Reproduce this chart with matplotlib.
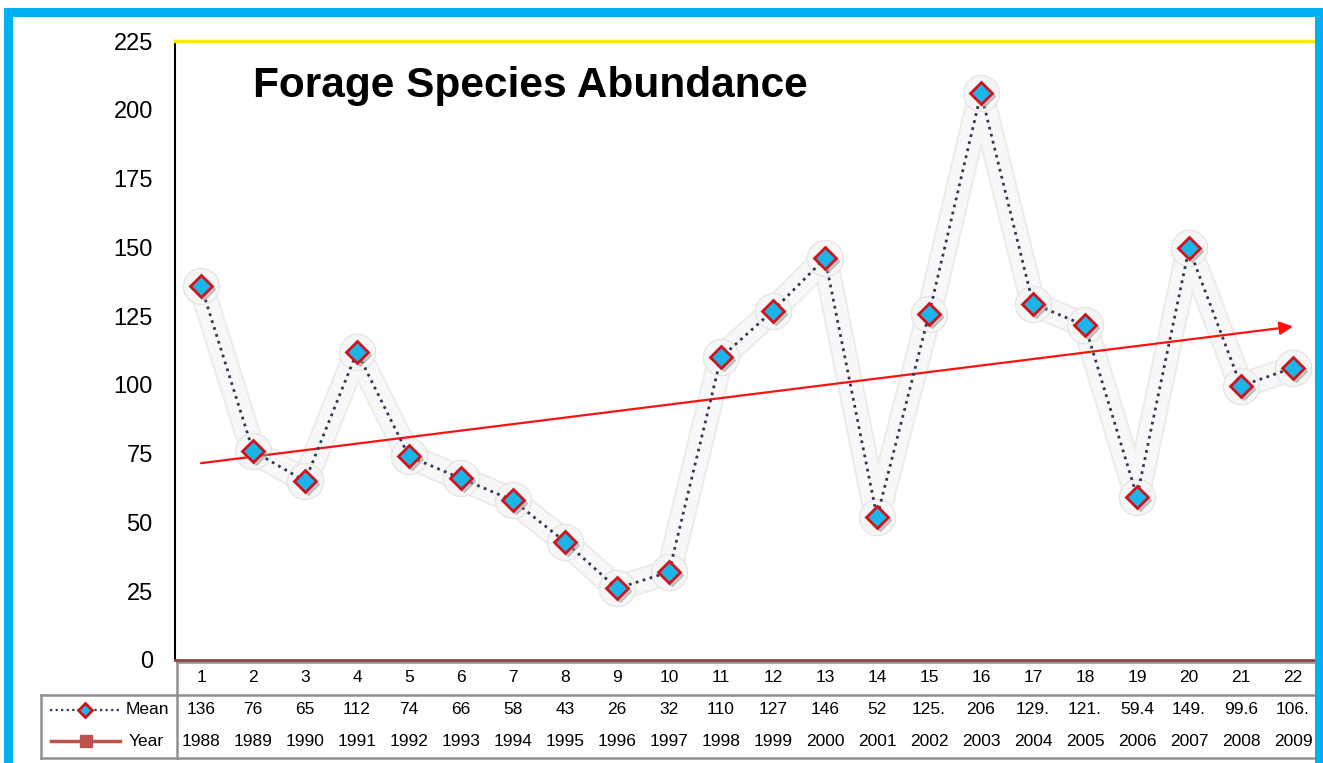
import matplotlib
matplotlib.use("Agg")
import matplotlib.pyplot as plt
import matplotlib.transforms as mtransforms
from matplotlib.lines import Line2D
from matplotlib.patches import Rectangle
import numpy as np

plt.rcParams['font.family'] = ['Liberation Sans', 'DejaVu Sans']

# data
points = list(range(1, 23))
mean_vals = [136, 76, 65, 112, 74, 66, 58, 43, 26, 32, 110, 127, 146, 52,
             125.7, 206, 129.5, 121.6, 59.4, 149.6, 99.6, 106.2]
mean_labels = ['136', '76', '65', '112', '74', '66', '58', '43', '26', '32', '110',
               '127', '146', '52', '125.', '206', '129.', '121.', '59.4', '149.', '99.6', '106.']
years = list(range(1988, 2010))
yticks = [0, 25, 50, 75, 100, 125, 150, 175, 200, 225]

W, H = 1323, 763
fig = plt.figure(figsize=(W / 100, H / 100), dpi=100)
fig.patch.set_facecolor('white')
ax = fig.add_axes([175 / W, (H - 660) / H, (1319 - 175) / W, (660 - 41) / H])

ax.set_xlim(0.5, 22.5)
ax.set_ylim(0, 225)
ax.set_yticks(yticks)
ax.set_xticks([])
ax.tick_params(axis='y', length=0, pad=16, labelsize=17)
ax.spines['right'].set_visible(False)
ax.spines['top'].set_color('#FFE800')
ax.spines['top'].set_linewidth(2.5)
ax.spines['left'].set_color('black')
ax.spines['left'].set_linewidth(1.5)
ax.spines['bottom'].set_color('#8B4545')
ax.spines['bottom'].set_linewidth(2)

# glow band behind the series
ax.plot(points, mean_vals, color='#ececec', lw=19, solid_capstyle='round', solid_joinstyle='round', zorder=1)
ax.plot(points, mean_vals, color='#f8f8f8', lw=16, solid_capstyle='round', solid_joinstyle='round', zorder=1)
ax.plot(points, mean_vals, 'o', ms=26, mfc='#f6f6f6', mec='#e6e6e6', mew=1, zorder=1)

# trend line with arrow
fit = np.polyfit(points, mean_vals, 1)
ax.annotate('', xy=(points[-1], np.polyval(fit, points[-1])),
            xytext=(points[0], np.polyval(fit, points[0])),
            arrowprops=dict(arrowstyle='-|>', color='#FF1010', lw=1.6, mutation_scale=20, shrinkA=0, shrinkB=0),
            zorder=2)

# dotted series
ax.plot(points, mean_vals, color='#2E3A55', lw=2, ls=(0, (1, 1.6)), zorder=3)

# marker shadows and markers
shadow = mtransforms.offset_copy(ax.transData, fig=fig, x=3, y=-3, units='dots')
ax.plot(points, mean_vals, 'D', ms=11, mfc='#9a9a9a', mec='#9a9a9a', alpha=0.5, transform=shadow, zorder=4)
ax.plot(points, mean_vals, 'D', ms=11, mfc='#1BB5EA', mec='#D0141E', mew=2, zorder=5)

fig.text(530 / W, (H - 86) / H, 'Forage Species Abundance', fontsize=30.5, fontweight='bold',
         ha='center', va='center')

# data table below the axis
def py(y):
    return (660 - y) / 619.0

trans = mtransforms.blended_transform_factory(ax.transData, ax.transAxes)
for x, m, yr in zip(points, mean_labels, years):
    ax.text(x, py(677), str(x), transform=trans, ha='center', va='center', fontsize=12.5, clip_on=False)
    ax.text(x, py(710), m, transform=trans, ha='center', va='center', fontsize=12.5, clip_on=False)
    ax.text(x, py(741), str(yr), transform=trans, ha='center', va='center', fontsize=12.5, clip_on=False)

def px(x):
    return (x - 175) / 1144.0

grid = '#909090'
lines = [
    ([px(177), px(1319)], [py(661.5), py(661.5)]),
    ([px(41), px(1319)], [py(695), py(695)]),
    ([px(41), px(1319)], [py(758), py(758)]),
    ([px(41), px(41)], [py(695), py(758)]),
    ([px(176.5), px(176.5)], [py(660), py(758)]),
]
for xs, ys in lines:
    ax.add_line(Line2D(xs, ys, transform=ax.transAxes, color=grid, lw=1.8, clip_on=False))

# legend keys in the table header
ax.add_line(Line2D([px(50), px(120)], [py(710), py(710)], transform=ax.transAxes,
                   color='#2E3A55', lw=1.6, ls=(0, (1, 1.5)), clip_on=False))
ax.add_line(Line2D([px(85)], [py(710)], transform=ax.transAxes, marker='D', ms=7,
                   mfc='#1BB5EA', mec='#D0141E', mew=2, clip_on=False))
ax.text(px(169), py(710), 'Mean', transform=ax.transAxes, ha='right', va='center', fontsize=12.5)
ax.add_line(Line2D([px(51), px(120)], [py(741), py(741)], transform=ax.transAxes,
                   color='#C0504D', lw=2.5, clip_on=False))
ax.add_line(Line2D([px(86)], [py(741)], transform=ax.transAxes, marker='s', ms=8,
                   mfc='#C0504D', mec='#C0504D', clip_on=False))
ax.text(px(164), py(741), 'Year', transform=ax.transAxes, ha='right', va='center', fontsize=12.5)

# blue frame
blue = '#00B0F0'
fig.patches.append(Rectangle((4 / W, (H - 17) / H), (W - 4) / W, 9 / H, transform=fig.transFigure,
                             facecolor=blue, edgecolor='none', zorder=10))
fig.patches.append(Rectangle((4 / W, 0), 9 / W, (H - 8) / H, transform=fig.transFigure,
                             facecolor=blue, edgecolor='none', zorder=10))
fig.patches.append(Rectangle((1315 / W, 0), 8 / W, (H - 8) / H, transform=fig.transFigure,
                             facecolor=blue, edgecolor='none', zorder=10))

fig.savefig('out.png', dpi=100)
